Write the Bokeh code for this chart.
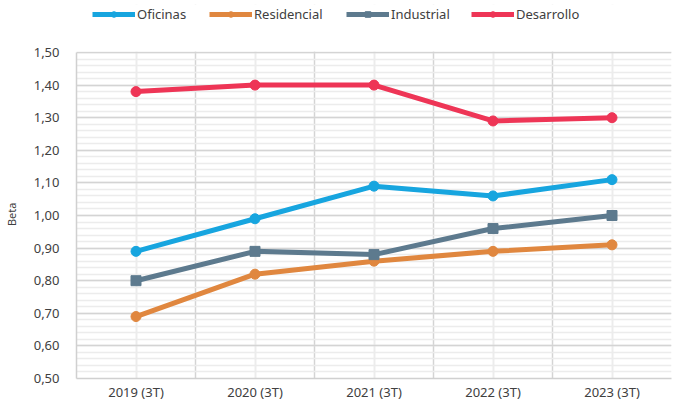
from bokeh.plotting import figure
from bokeh.models import FixedTicker, Legend, LegendItem, Range1d, BoxAnnotation
from bokeh.embed import file_html
from bokeh.resources import INLINE

years = ["2019 (3T)", "2020 (3T)", "2021 (3T)", "2022 (3T)", "2023 (3T)"]
oficinas = [0.89, 0.99, 1.09, 1.06, 1.11]
residencial = [0.69, 0.82, 0.86, 0.89, 0.91]
industrial = [0.80, 0.89, 0.88, 0.96, 1.00]
desarrollo = [1.38, 1.40, 1.40, 1.29, 1.30]
y_ticks = [0.5, 0.6, 0.7, 0.8, 0.9, 1.0, 1.1, 1.2, 1.3, 1.4, 1.5]

FONT = "Noto Sans"
TXT = "#404040"

xs = list(range(1, len(years) + 1))
Y0, Y1 = y_ticks[0], y_ticks[-1]
PX_PER_UNIT = 326.0          # plot scale: one beta unit in pixels
HEADROOM_PX = 48             # space above 1,50 for the legend
y_top = Y1 + HEADROOM_PX / PX_PER_UNIT

p = figure(width=672, height=404, output_backend="svg", toolbar_location=None,
           x_range=Range1d(0.5, len(years) + 0.5), y_range=Range1d(Y0, y_top),
           min_border_left=0, min_border_right=1, min_border_top=4, min_border_bottom=26)
p.outline_line_color = None
p.background_fill_color = "white"
p.border_fill_color = "white"

for ax in (p.xaxis[0], p.yaxis[0]):
    ax.major_tick_line_color = None
    ax.minor_tick_line_color = None
    ax.major_tick_out = 0
    ax.minor_tick_out = 0
    ax.major_tick_in = 0
    ax.minor_tick_in = 0
    ax.axis_line_color = "#d0d0d0"
    ax.axis_line_width = 1.5
    ax.major_label_text_font = FONT
    ax.major_label_text_font_size = "13px"
    ax.major_label_text_color = TXT

# x axis
p.xaxis.ticker = FixedTicker(ticks=xs, minor_ticks=[x - 0.5 for x in xs] + [len(xs) + 0.5])
p.xaxis.major_label_overrides = {x: lab for x, lab in zip(xs, years)}
p.xaxis.major_label_standoff = 4

# y axis
minor = [round(Y0 + 0.02 * i, 2) for i in range(51)]
p.yaxis.ticker = FixedTicker(ticks=y_ticks, minor_ticks=minor)
p.yaxis.bounds = (Y0, Y1)
p.yaxis.major_label_overrides = {t: f"{t:.2f}".replace(".", ",") for t in y_ticks}
p.yaxis.major_label_standoff = 17
p.yaxis.axis_label = "Beta" + "\u00a0" * 16
p.yaxis.axis_label_text_font = FONT
p.yaxis.axis_label_text_font_size = "11px"
p.yaxis.axis_label_text_font_style = "normal"
p.yaxis.axis_label_text_color = TXT
p.yaxis.axis_label_standoff = 12

# grids
p.ygrid.grid_line_color = "#d4d4d4"
p.ygrid.grid_line_width = 1.5
p.ygrid.minor_grid_line_color = "#ececec"
p.ygrid.minor_grid_line_width = 1.5
p.xgrid.grid_line_color = "#ececec"
p.xgrid.grid_line_width = 2
p.xgrid.minor_grid_line_color = "#d4d4d4"
p.xgrid.minor_grid_line_width = 1.5

series = [
    ("Oficinas", oficinas, "#17a5df", "circle", 16),
    ("Residencial", residencial, "#e0873f", "circle", 133),
    ("Industrial", industrial, "#5d7a8e", "square", 270),
    ("Desarrollo", desarrollo, "#ee3556", "circle", 395),
]

order = [1, 2, 0, 3]
renderers = {}
for i in order:
    name, vals, col, marker, _ = series[i]
    l = p.line(xs, vals, line_color=col, line_width=5, line_join="round")
    s = p.scatter(xs, vals, marker=marker, size=10, fill_color=col, line_color=col)
    renderers[i] = (l, s)

# white band above the 1,50 line (legend area)
p.add_layout(BoxAnnotation(bottom=Y1 + 1.0 / PX_PER_UNIT, fill_color="white", fill_alpha=1.0,
                           line_alpha=0))

for i, (name, vals, col, marker, lx) in enumerate(series):
    l, s = renderers[i]
    leg = Legend(items=[LegendItem(label=name, renderers=[l, s])],
                 location=(lx, 355), orientation="horizontal",
                 glyph_width=43, glyph_height=14, label_standoff=2,
                 padding=0, margin=0, border_line_color=None,
                 background_fill_alpha=0,
                 label_text_font=FONT, label_text_font_size="13px",
                 label_text_color=TXT)
    p.add_layout(leg, "center")

open("out.html", "w").write(file_html(p, INLINE))
